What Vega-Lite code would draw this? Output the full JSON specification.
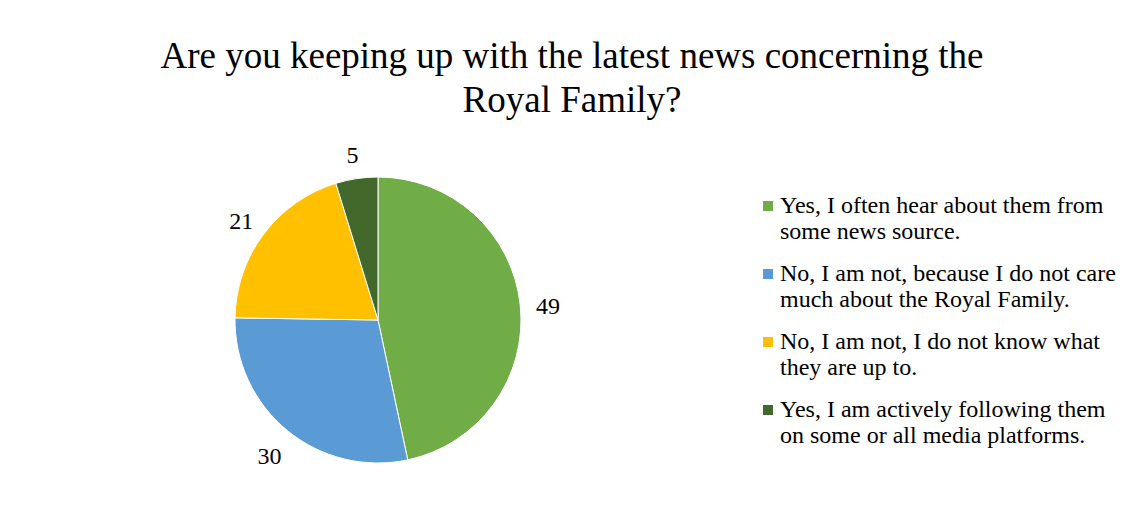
{
  "$schema": "https://vega.github.io/schema/vega-lite/v6.json",
  "width": 286,
  "height": 286,
  "autosize": "none",
  "padding": {"left": 235, "top": 177, "right": 609, "bottom": 45},
  "background": "white",
  "config": {"view": {"stroke": null}},
  "title": {
    "text": ["Are you keeping up with the latest news concerning the", "Royal Family?"],
    "font": "Liberation Serif",
    "fontSize": 37,
    "fontWeight": "normal",
    "color": "#000000",
    "anchor": "middle",
    "dx": 194,
    "offset": 24,
    "lineHeight": 44
  },
  "data": {
    "values": [
      {"answer": "Yes, I often hear about them from\nsome news source.", "value": 49, "rank": 1},
      {"answer": "No, I am not, because I do not care\nmuch about the Royal Family.", "value": 30, "rank": 2},
      {"answer": "No, I am not, I do not know what\nthey are up to.", "value": 21, "rank": 3},
      {"answer": "Yes, I am actively following them\non some or all media platforms.", "value": 5, "rank": 4}
    ]
  },
  "encoding": {
    "theta": {"field": "value", "type": "quantitative", "stack": true},
    "order": {"field": "rank", "type": "quantitative"}
  },
  "layer": [
    {
      "mark": {"type": "arc", "outerRadius": 143, "stroke": "white", "strokeWidth": 1},
      "encoding": {
        "color": {
          "field": "answer",
          "type": "nominal",
          "sort": null,
          "scale": {
            "domain": [
              "Yes, I often hear about them from\nsome news source.",
              "No, I am not, because I do not care\nmuch about the Royal Family.",
              "No, I am not, I do not know what\nthey are up to.",
              "Yes, I am actively following them\non some or all media platforms."
            ],
            "range": ["#70AD47", "#5B9BD5", "#FFC000", "#43682B"]
          },
          "legend": {
            "title": null,
            "orient": "right",
            "offset": 218,
            "padding": 17,
            "labelFont": "Liberation Serif",
            "labelFontSize": 24,
            "labelColor": "#000000",
            "labelLimit": 500,
            "labelExpr": "split(datum.label, '\\n')",
            "symbolType": "square",
            "symbolSize": 100,
            "symbolStrokeWidth": 0,
            "rowPadding": 18,
            "labelOffset": 0
          }
        }
      }
    },
    {
      "mark": {"type": "text", "radius": 171, "dy": 5, "font": "Liberation Serif", "fontSize": 24, "color": "#000000"},
      "encoding": {
        "detail": {"field": "answer", "type": "nominal"},
        "text": {"field": "value", "type": "quantitative"}
      }
    }
  ]
}
